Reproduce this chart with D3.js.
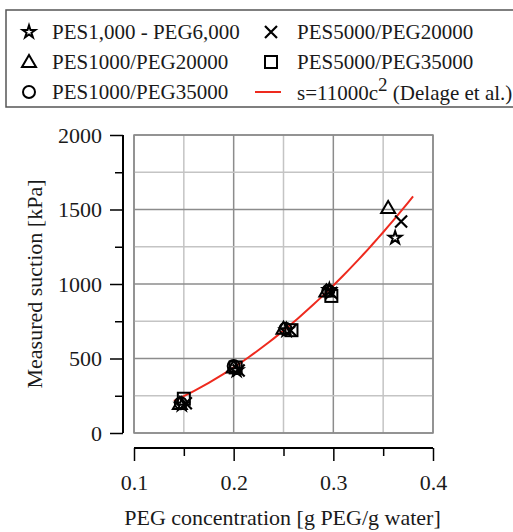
<!DOCTYPE html>
<html><head><meta charset="utf-8">
<script src="https://cdn.jsdelivr.net/npm/d3@7"></script>
<style>body{margin:0;background:#fff}svg{display:block}text{font-family:"Liberation Serif","Times New Roman",serif}</style>
</head><body><svg id="c" width="513" height="532"></svg>
<script>
const seriesNames = ["PES1,000 - PEG6,000","PES1000/PEG20000","PES1000/PEG35000","PES5000/PEG20000","PES5000/PEG35000"];
const starC = [0.148,0.203,0.253,0.296,0.362];
const starS = [190,420,690,960,1310];
const triC = [0.146,0.200,0.250,0.293,0.355];
const triS = [195,440,700,950,1510];
const circC = [0.147,0.200,0.252,0.295];
const circS = [200,450,700,955];
const xC = [0.152,0.205,0.257,0.298,0.368];
const xS = [200,420,690,940,1420];
const sqC = [0.150,0.202,0.258,0.298];
const sqS = [230,440,690,920];
const fitC = [0.14,0.38];
const fitCoef = 11000;
const xTicks = [0.1,0.2,0.3,0.4];
const yTicks = [0,500,1000,1500,2000];

const svg = d3.select("#c");
const x = d3.scaleLinear().domain([0.1,0.4]).range([134,433]);
const y = d3.scaleLinear().domain([0,2000]).range([433,135]);
const TXT = "#1a1a1a";

// grid
const g = svg.append("g");
d3.range(0.1,0.4001,0.05).forEach((v,i)=>{
  g.append("line").attr("x1",x(v)).attr("x2",x(v)).attr("y1",y(0)).attr("y2",y(2000))
   .attr("stroke", i%2===0?"#8c8c8c":"#c4c4c4").attr("stroke-width",1.5);
});
d3.range(0,2001,250).forEach((v,i)=>{
  g.append("line").attr("x1",x(0.1)).attr("x2",x(0.4)).attr("y1",y(v)).attr("y2",y(v))
   .attr("stroke", i%2===0?"#8c8c8c":"#c4c4c4").attr("stroke-width",1.5);
});
g.append("rect").attr("x",x(0.1)).attr("y",y(2000)).attr("width",x(0.4)-x(0.1)).attr("height",y(0)-y(2000))
 .attr("fill","none").attr("stroke","#8c8c8c").attr("stroke-width",1.5);

// axes
const yAx = svg.append("g").attr("transform","translate(123,0)")
  .call(d3.axisLeft(y).tickValues(d3.range(0,2001,250)).tickSize(8).tickFormat(""));
yAx.selectAll(".tick line").attr("stroke-width",1.5).attr("x2",(d)=>d%500===0?-13:-8);
const yAx2 = svg.append("g").attr("transform","translate(123,0)")
  .call(d3.axisLeft(y).tickValues(yTicks).tickSize(13).tickPadding(6).tickFormat(d3.format("d")));
yAx.select(".domain").attr("stroke-width",2).attr("d",`M0,${y(2000)}V${y(0)}`);
yAx2.select(".domain").remove();
yAx2.selectAll(".tick line").remove();
yAx2.selectAll("text").attr("font-size",22).attr("x",-21).attr("fill",TXT);

const xAx = svg.append("g").attr("transform","translate(0,448)")
  .call(d3.axisBottom(x).tickValues(d3.range(0.1,0.4001,0.05)).tickSize(8).tickFormat(""));
xAx.selectAll(".tick line").attr("stroke-width",1.5).attr("y2",(d,i)=>i%2===0?13:8);
xAx.select(".domain").attr("stroke-width",2).attr("d",`M${x(0.1)},0H${x(0.4)}`);
const xAx2 = svg.append("g").attr("transform","translate(0,448)")
  .call(d3.axisBottom(x).tickValues(xTicks).tickSize(13).tickPadding(6).tickFormat(d3.format(".1f")));
xAx2.select(".domain").remove();
xAx2.selectAll(".tick line").remove();
xAx2.selectAll("text").attr("font-size",22).attr("y",26).attr("fill",TXT);

svg.append("text").attr("x",x(0.25)-1).attr("y",525).attr("text-anchor","middle").attr("font-size",22).attr("fill",TXT)
 .text("PEG concentration [g PEG/g water]");
svg.append("text").attr("transform",`translate(42,${y(1000)}) rotate(-90)`).attr("text-anchor","middle").attr("font-size",22).attr("fill",TXT)
 .text("Measured suction [kPa]");

// fit curve
const fitPts = d3.range(fitC[0], fitC[1]+1e-9, 0.005).map(c=>[c, fitCoef*c*c]);
svg.append("path").attr("d", d3.line().x(d=>x(d[0])).y(d=>y(d[1])).curve(d3.curveMonotoneX)(fitPts))
 .attr("fill","none").attr("stroke","#ee2a1e").attr("stroke-width",2);

// marker drawing
function marker(sel, type, cx, cy){
  const k = sel.append("g").attr("transform",`translate(${cx},${cy})`);
  if(type==="star"){
    k.append("path").attr("d", d3.symbol(d3.symbolStar, 50)()).attr("fill","none").attr("stroke","#000").attr("stroke-width",2);
  } else if(type==="tri"){
    k.append("path").attr("d","M0,-7L7,5H-7Z").attr("fill","none").attr("stroke","#000").attr("stroke-width",2);
  } else if(type==="circ"){
    k.append("circle").attr("r",6).attr("fill","none").attr("stroke","#000").attr("stroke-width",2);
  } else if(type==="x"){
    k.append("path").attr("d","M-6,-6L6,6M-6,6L6,-6").attr("fill","none").attr("stroke","#000").attr("stroke-width",2.2);
  } else if(type==="sq"){
    k.append("rect").attr("x",-6).attr("y",-6).attr("width",12).attr("height",12).attr("fill","none").attr("stroke","#000").attr("stroke-width",2);
  }
}
const series = [
  {type:"star", c:starC, s:starS},
  {type:"tri", c:triC, s:triS},
  {type:"circ", c:circC, s:circS},
  {type:"x", c:xC, s:xS},
  {type:"sq", c:sqC, s:sqS}
];
const pts = svg.append("g");
series.forEach(se=>se.c.forEach((c,i)=>marker(pts, se.type, x(c), y(se.s[i]))));

// legend
const lg = svg.append("g");
lg.append("rect").attr("x",6).attr("y",10).attr("width",520).attr("height",97).attr("fill","#fff").attr("stroke","#555").attr("stroke-width",1.5);
const legItems = [
  {type:"star", name:seriesNames[0], mx:29, tx:52, row:0},
  {type:"tri", name:seriesNames[1], mx:29, tx:52, row:1},
  {type:"circ", name:seriesNames[2], mx:29, tx:52, row:2},
  {type:"x", name:seriesNames[3], mx:271, tx:297, row:0},
  {type:"sq", name:seriesNames[4], mx:271, tx:297, row:1}
];
legItems.forEach(it=>{
  const cy = 32 + it.row*30;
  marker(lg, it.type, it.mx, cy);
  lg.append("text").attr("x",it.tx).attr("y",cy+7).attr("font-size",21).attr("fill",TXT).text(it.name);
});
lg.append("line").attr("x1",255).attr("x2",281).attr("y1",92).attr("y2",92).attr("stroke","#ee2a1e").attr("stroke-width",2);
const ft = lg.append("text").attr("x",297).attr("y",100).attr("font-size",21).attr("fill",TXT);
ft.append("tspan").text("s=11000c");
ft.append("tspan").attr("dy",-9).attr("font-size",19).text("2");
ft.append("tspan").attr("dy",9).text(" (Delage et al.)");
</script></body></html>
